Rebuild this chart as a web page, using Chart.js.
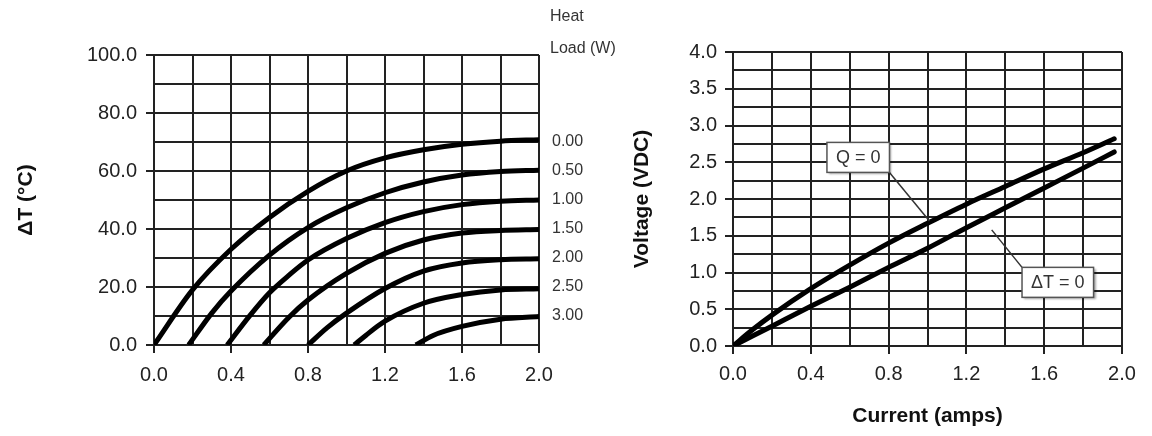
<!DOCTYPE html>
<html>
<head>
<meta charset="utf-8">
<script src="https://cdn.jsdelivr.net/npm/chart.js@4.4.0/dist/chart.umd.min.js"></script>
<style>
  html, body { margin: 0; padding: 0; background: #fff; }
  #wrap { position: relative; width: 1152px; height: 436px; overflow: hidden; }
  #dtChart { position: absolute; left: 0; top: 0; }
  #vChart { position: absolute; left: 610px; top: 0; }
</style>
</head>
<body>
<div id="wrap">
  <canvas id="dtChart" width="640" height="436"></canvas>
  <canvas id="vChart" width="542" height="436"></canvas>
</div>
<script>
// ---- left chart: delta T (C) vs current (A), one curve per heat load ----
const heatLoads = ["0.00", "0.50", "1.00", "1.50", "2.00", "2.50", "3.00"];

const cur00 = [0, 0.2, 0.4, 0.6, 0.8, 1.0, 1.2, 1.4, 1.6, 1.8, 2.0];
const dt00  = [0, 19, 33, 44, 53, 60, 64.5, 67.3, 69.2, 70.3, 70.8];
const cur05 = [0.18, 0.3, 0.4, 0.6, 0.8, 1.0, 1.2, 1.4, 1.6, 1.8, 2.0];
const dt05  = [0, 11, 18.6, 31, 40.5, 47.3, 52.5, 56.2, 58.6, 59.8, 60.3];
const cur10 = [0.38, 0.5, 0.6, 0.7, 0.8, 1.0, 1.2, 1.4, 1.6, 1.8, 2.0];
const dt10  = [0, 10.3, 18, 24, 29.3, 36.7, 42.2, 46, 48.4, 49.6, 50];
const cur15 = [0.57, 0.7, 0.8, 1.0, 1.2, 1.4, 1.6, 1.8, 2.0];
const dt15  = [0, 9.5, 15.5, 24.7, 31.6, 36.2, 38.6, 39.5, 39.8];
const cur20 = [0.80, 0.9, 1.0, 1.2, 1.4, 1.6, 1.8, 2.0];
const dt20  = [0, 6, 11, 19.5, 25.5, 28.3, 29.4, 29.7];
const cur25 = [1.04, 1.1, 1.2, 1.4, 1.6, 1.8, 2.0];
const dt25  = [0, 3.3, 8.2, 14.4, 17.4, 19, 19.4];
const cur30 = [1.36, 1.45, 1.6, 1.8, 2.0];
const dt30  = [0, 3.3, 6.4, 8.9, 9.8];

const curvesI = [cur00, cur05, cur10, cur15, cur20, cur25, cur30];
const curvesT = [dt00, dt05, dt10, dt15, dt20, dt25, dt30];

// ---- right chart: voltage (VDC) vs current (A) ----
const currentR = [0, 0.1, 0.2, 0.4, 0.6, 0.8, 1.0, 1.2, 1.4, 1.6, 1.8, 1.96];
const voltQ0   = [0, 0.22, 0.42, 0.78, 1.10, 1.40, 1.67, 1.93, 2.17, 2.41, 2.63, 2.82];
const voltDT0  = [0, 0.135, 0.27, 0.54, 0.80, 1.07, 1.33, 1.61, 1.88, 2.15, 2.42, 2.64];

// callout boxes (box corner + leader tip, in axis units)
const noteText   = ["Q = 0", "\u0394T = 0"];
const noteBoxI   = [0.483, 1.486];
const noteBoxV   = [2.77, 1.07];
const noteTipI   = [1.01, 1.33];
const noteTipV   = [1.70, 1.58];
const noteCorner = ["br", "tl"];

const font = "'Liberation Sans', Arial, sans-serif";
Chart.defaults.font.family = font;
Chart.defaults.color = "#222";

const onStep = (v, step) => Math.abs(v / step - Math.round(v / step)) < 1e-6;

function gridOpts(step) {
  return {
    color: "#222",
    lineWidth: 2,
    tickLength: 8,
    tickWidth: 2,
    tickColor: c => (c.tick && onStep(c.tick.value, step)) ? "#222" : "rgba(0,0,0,0)"
  };
}

const toPoints = (xs, ys) => xs.map((x, j) => ({ x: x, y: ys[j] }));

// "Heat / Load (W)" header above the right-hand labels
const heatHeader = {
  id: "heatHeader",
  afterDraw(chart) {
    const { ctx, chartArea } = chart;
    ctx.save();
    ctx.font = "16px " + font;
    ctx.fillStyle = "#333";
    ctx.textBaseline = "middle";
    ctx.fillText("Heat", chartArea.right + 11, chartArea.top - 38);
    ctx.fillText("Load (W)", chartArea.right + 11, chartArea.top - 6);
    ctx.restore();
  }
};

new Chart(document.getElementById("dtChart"), {
  type: "scatter",
  data: {
    datasets: heatLoads.map((q, k) => ({
      label: q,
      data: toPoints(curvesI[k], curvesT[k]),
      showLine: true,
      borderColor: "#000",
      borderWidth: 5,
      pointRadius: 0,
      cubicInterpolationMode: "monotone",
      borderCapStyle: "butt"
    }))
  },
  options: {
    responsive: false,
    animation: false,
    events: [],
    layout: { padding: { top: 55, left: 0, right: 0, bottom: 0 } },
    plugins: { legend: { display: false }, tooltip: { enabled: false } },
    scales: {
      x: {
        type: "linear", position: "bottom", min: 0, max: 2,
        ticks: { stepSize: 0.2, autoSkip: false, maxRotation: 0, padding: 10, font: { size: 20 },
                 callback: v => onStep(v, 0.4) ? v.toFixed(1) : "" },
        grid: gridOpts(0.4),
        border: { color: "#222", width: 2 },
        afterFit: s => { s.height = 91; }
      },
      y: {
        type: "linear", position: "left", min: 0, max: 100,
        ticks: { stepSize: 10, autoSkip: false, padding: 9, font: { size: 20 },
                 callback: v => onStep(v, 20) ? v.toFixed(1) : "" },
        grid: gridOpts(20),
        border: { color: "#222", width: 2 },
        title: { display: true, text: "\u0394T (\u00B0C)", font: { size: 21, weight: "bold" }, color: "#111",
                 padding: { top: 14, bottom: 0 } },
        afterFit: s => { s.width = 154; }
      },
      y2: {
        type: "linear", position: "right", min: 0, max: 100,
        ticks: { stepSize: 10, autoSkip: false, padding: 13, font: { size: 16 }, color: "#333",
                 callback: v => {
                   const k = Math.round((70 - v) / 10);
                   return (k >= 0 && k < heatLoads.length) ? heatLoads[k] : "";
                 } },
        grid: { display: false, drawTicks: false },
        border: { display: false },
        afterFit: s => { s.width = 101; }
      }
    }
  },
  plugins: [heatHeader]
});

// callout boxes with leader lines
const callouts = {
  id: "callouts",
  afterDatasetsDraw(chart) {
    const { ctx } = chart;
    const xs = chart.scales.x, ys = chart.scales.y;
    ctx.save();
    ctx.font = "18px " + font;
    noteText.forEach((t, k) => {
      const w = ctx.measureText(t).width + 18;
      const h = 30;
      const x0 = xs.getPixelForValue(noteBoxI[k]);
      const y0 = ys.getPixelForValue(noteBoxV[k]);
      const cx = noteCorner[k] === "br" ? x0 + w : x0;
      const cy = noteCorner[k] === "br" ? y0 + h : y0;
      ctx.strokeStyle = "#333";
      ctx.lineWidth = 1.5;
      ctx.beginPath();
      ctx.moveTo(cx, cy);
      ctx.lineTo(xs.getPixelForValue(noteTipI[k]), ys.getPixelForValue(noteTipV[k]));
      ctx.stroke();
      ctx.shadowColor = "rgba(0,0,0,0.35)";
      ctx.shadowOffsetX = 2;
      ctx.shadowOffsetY = 2;
      ctx.shadowBlur = 2;
      ctx.fillStyle = "#fff";
      ctx.fillRect(x0, y0, w, h);
      ctx.shadowColor = "rgba(0,0,0,0)";
      ctx.strokeStyle = "#555";
      ctx.strokeRect(x0, y0, w, h);
      ctx.fillStyle = "#333";
      ctx.textBaseline = "middle";
      ctx.fillText(t, x0 + 9, y0 + h / 2 + 1);
    });
    ctx.restore();
  }
};

new Chart(document.getElementById("vChart"), {
  type: "scatter",
  data: {
    datasets: [
      { label: "Q = 0", data: toPoints(currentR, voltQ0) },
      { label: "\u0394T = 0", data: toPoints(currentR, voltDT0) }
    ].map(d => Object.assign(d, {
      showLine: true,
      borderColor: "#000",
      borderWidth: 5,
      pointRadius: 0,
      cubicInterpolationMode: "monotone",
      borderCapStyle: "round"
    }))
  },
  options: {
    responsive: false,
    animation: false,
    events: [],
    layout: { padding: { top: 52, left: 0, right: 30, bottom: 0 } },
    plugins: { legend: { display: false }, tooltip: { enabled: false } },
    scales: {
      x: {
        type: "linear", position: "bottom", min: 0, max: 2,
        ticks: { stepSize: 0.2, autoSkip: false, maxRotation: 0, padding: 8, font: { size: 20 },
                 callback: v => onStep(v, 0.4) ? v.toFixed(1) : "" },
        grid: gridOpts(0.4),
        border: { color: "#222", width: 2 },
        title: { display: true, text: "Current (amps)", font: { size: 21, weight: "bold" }, color: "#111",
                 padding: { top: 0, bottom: 7 } },
        afterFit: s => { s.height = 90; }
      },
      y: {
        type: "linear", position: "left", min: 0, max: 4,
        ticks: { stepSize: 0.25, autoSkip: false, padding: 8, font: { size: 20 },
                 callback: v => onStep(v, 0.5) ? v.toFixed(1) : "" },
        grid: gridOpts(0.5),
        border: { color: "#222", width: 2 },
        title: { display: true, text: "Voltage (VDC)", font: { size: 21, weight: "bold" }, color: "#111",
                 padding: { top: 20, bottom: 0 } },
        afterFit: s => { s.width = 123; }
      }
    }
  },
  plugins: [callouts]
});
</script>
</body>
</html>
